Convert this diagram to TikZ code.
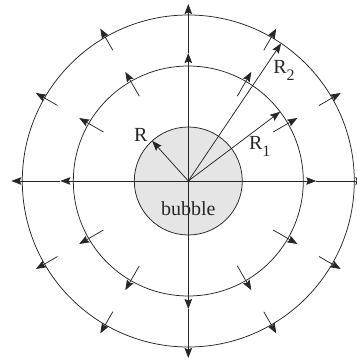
\documentclass[tikz,border=0pt]{standalone}
\usepackage{fontspec}
\setmainfont{Liberation Serif}
\usetikzlibrary{arrows.meta}
\begin{document}
\begin{tikzpicture}[x=1pt,y=1pt,
  ln/.style={line width=0.75pt, draw=black!85},
  arr/.style={ln, -{Stealth[length=10pt,width=7.5pt,inset=1.5pt]}},
  ring/.style={circle, ln, inner sep=0pt, outer sep=0pt, minimum size=#1},
  lbl/.style={inner sep=0pt, anchor=base, font=\fontsize{20}{20}\selectfont, text=black!85}]
\useasboundingbox (-188.3,-180) rectangle (167.7,181);
\coordinate (O) at (0,0);
\node[ring=108pt, fill=black!10] (bubble) at (O) {};
\node[ring=230pt] (inner) at (O) {};
\node[ring=332pt] (outer) at (O) {};
% axes
\foreach \a in {0,90,180,270} {
  \coordinate (ai\a) at (\a:128);
  \coordinate (ao\a) at (\a:177);
  \draw[arr] (O) -- (ai\a);
  \draw[arr] (ai\a) -- (ao\a);
}
% small radial arrows
\foreach \a in {30,60,120,150,210,240,300,330} {
  \coordinate (si\a) at (\a:98);
  \coordinate (ti\a) at (\a:126);
  \coordinate (so\a) at (\a:151);
  \coordinate (to\a) at (\a:176);
  \draw[arr] (si\a) -- (ti\a);
  \draw[arr] (so\a) -- (to\a);
}
% radius arrows
\draw[arr] (O) -- (bubble.132);
\draw[arr] (O) -- (inner.37);
\draw[arr] (O) -- (outer.56);
% labels
\node[lbl] (lR) at (-47.5,39.3) {R};
\node[lbl] (lR1) at (71.4,31) {R\raisebox{-6.5pt}{\fontsize{16}{16}\selectfont 1}};
\node[lbl] (lR2) at (95.7,107) {R\raisebox{-7pt}{\fontsize{16}{16}\selectfont 2}};
\node[lbl] (lb) at (0,-34.7) {bubble};
\end{tikzpicture}
\end{document}
